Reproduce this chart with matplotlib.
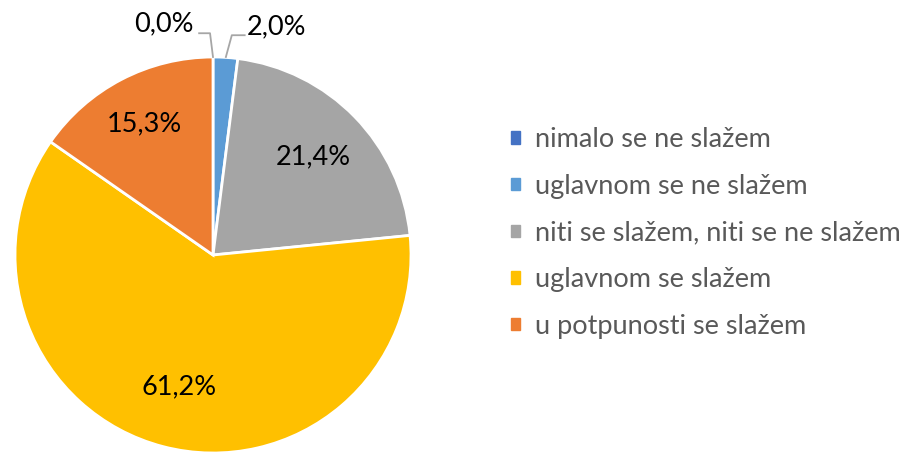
import matplotlib.pyplot as plt
import numpy as np

plt.rcParams['font.family'] = ['Lato', 'DejaVu Sans']

categories = ['nimalo se ne slažem', 'uglavnom se ne slažem',
              'niti se slažem, niti se ne slažem', 'uglavnom se slažem',
              'u potpunosti se slažem']
values = [0.0, 2.0, 21.4, 61.2, 15.3]
labels = ['0,0%', '2,0%', '21,4%', '61,2%', '15,3%']
colors = ['#4472C4', '#5B9BD5', '#A5A5A5', '#FFC000', '#ED7D31']

fig = plt.figure(figsize=(9.08, 4.53), dpi=100)
ax = fig.add_axes([15 / 908, 0, 396 / 908, 396 / 453])

wedges, _ = ax.pie(values, colors=colors, startangle=90, counterclock=False,
                   wedgeprops=dict(edgecolor='white', linewidth=2))
ax.set_xlim(-1, 1)
ax.set_ylim(-1, 1)
ax.set_aspect('equal')

fs = 19.5

# inside labels
inside = {2: 0.71, 3: 0.69, 4: 0.75}
for i, d in inside.items():
    w = wedges[i]
    ang = np.deg2rad((w.theta1 + w.theta2) / 2)
    ax.text(d * np.cos(ang), d * np.sin(ang), labels[i], ha='center',
            va='center', fontsize=fs, color='#000000')

# outside labels with leader lines
lc = '#A6A6A6'
ax.plot([0.0, -0.015, -0.07], [1.0, 1.12, 1.12], color=lc, lw=1.3,
        clip_on=False)
ax.text(-0.1, 1.17, labels[0], ha='right', va='center', fontsize=fs,
        clip_on=False)
ax.plot([0.065, 0.095, 0.16], [1.0, 1.11, 1.11], color=lc, lw=1.3,
        clip_on=False)
ax.text(0.17, 1.15, labels[1], ha='left', va='center', fontsize=fs,
        clip_on=False)

handles = [plt.Rectangle((0, 0), 1, 1, color=c) for c in colors]
leg = fig.legend(handles, categories, loc='center left',
                 bbox_to_anchor=(500 / 908, (453 - 233) / 453),
                 frameon=False, fontsize=fs, handlelength=0.33,
                 handleheight=0.33, handletextpad=0.55, labelspacing=0.8,
                 labelcolor='#595959', borderaxespad=0)

fig.savefig('out.png', dpi=100)
